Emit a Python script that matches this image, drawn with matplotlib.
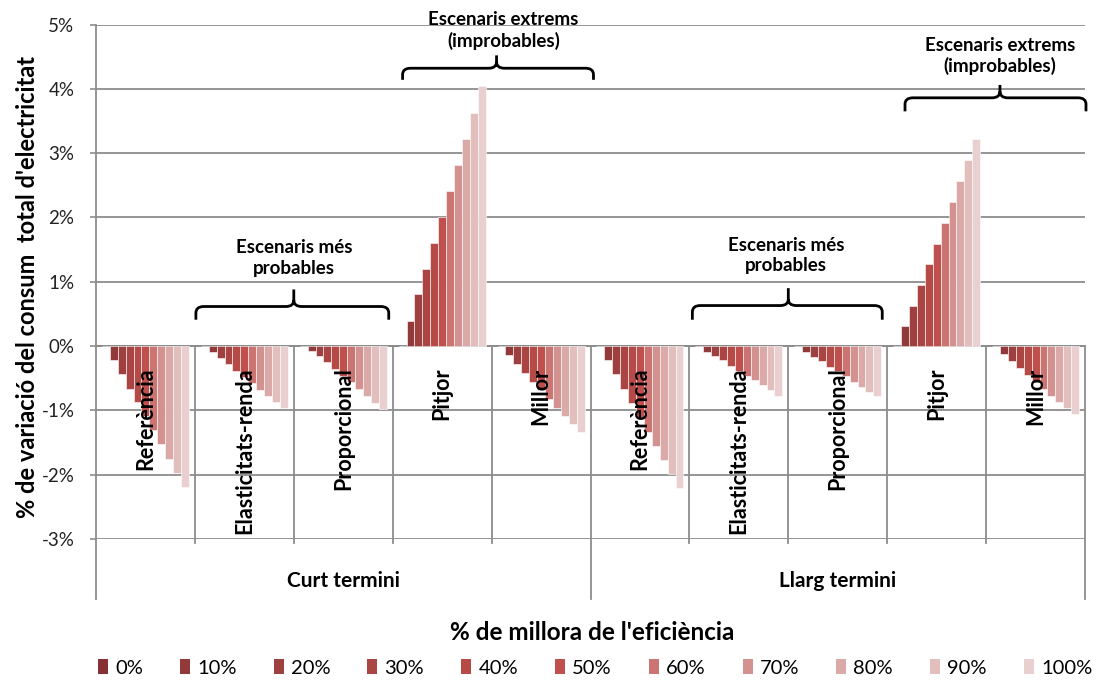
import numpy as np
import matplotlib
matplotlib.use("Agg")
import matplotlib.pyplot as plt
from matplotlib.path import Path
from matplotlib.patches import PathPatch, Patch

plt.rcParams['font.family'] = ['Lato', 'DejaVu Sans']

# Efficiency improvement levels (one bar series each)
efficiency_levels = ['0%', '10%', '20%', '30%', '40%', '50%', '60%', '70%', '80%', '90%', '100%']
scenarios = ['Referència', 'Elasticitats-renda', 'Proporcional', 'Pitjor', 'Millor']
horizons = ['Curt termini', 'Llarg termini']
y_ticks = [-3, -2, -1, 0, 1, 2, 3, 4, 5]

# % variation of total electricity consumption, per scenario, for each efficiency level
ct_referencia = [0, -0.22, -0.44, -0.66, -0.87, -1.09, -1.31, -1.53, -1.75, -1.97, -2.19]
ct_elasticitats = [0, -0.09, -0.18, -0.28, -0.38, -0.48, -0.58, -0.68, -0.78, -0.87, -0.96]
ct_proporcional = [0, -0.08, -0.16, -0.25, -0.35, -0.46, -0.56, -0.66, -0.77, -0.88, -0.98]
ct_pitjor = [0, 0.39, 0.81, 1.20, 1.61, 2.00, 2.41, 2.82, 3.22, 3.63, 4.04]
ct_millor = [0, -0.14, -0.28, -0.42, -0.56, -0.69, -0.83, -0.96, -1.09, -1.21, -1.33]
lt_referencia = [0, -0.22, -0.44, -0.66, -0.88, -1.10, -1.33, -1.55, -1.77, -1.99, -2.20]
lt_elasticitats = [0, -0.09, -0.15, -0.22, -0.31, -0.38, -0.46, -0.53, -0.61, -0.69, -0.77]
lt_proporcional = [0, -0.09, -0.17, -0.24, -0.32, -0.39, -0.47, -0.56, -0.64, -0.72, -0.77]
lt_pitjor = [0, 0.31, 0.63, 0.95, 1.28, 1.59, 1.92, 2.24, 2.57, 2.89, 3.22]
lt_millor = [0, -0.12, -0.23, -0.34, -0.45, -0.56, -0.66, -0.77, -0.87, -0.97, -1.06]

level_colors = ['#863234', '#923a39', '#9e403f', '#aa4543', '#b64a47', '#c0504d',
                '#cb7472', '#d39190', '#daa9a8', '#e2bebd', '#e9cfcf']

category_values = [ct_referencia, ct_elasticitats, ct_proporcional, ct_pitjor, ct_millor,
                   lt_referencia, lt_elasticitats, lt_proporcional, lt_pitjor, lt_millor]

GRID = '#8c8c8c'
W, H = 1100, 685
fig = plt.figure(figsize=(W / 100, H / 100), dpi=100)
ax_left, ax_right, ax_top, ax_bottom = 96, 1085, 24.5, 539
ax = fig.add_axes([ax_left / W, 1 - ax_bottom / H, (ax_right - ax_left) / W, (ax_bottom - ax_top) / H])

n_cat = len(category_values)
n_lev = len(efficiency_levels)
bar_w = 0.08
start = (1 - bar_w * n_lev) / 2

for j, level in enumerate(efficiency_levels):
    heights = [vals[j] for vals in category_values]
    xs = np.arange(n_cat) + start + bar_w * j
    ax.bar(xs, heights, width=bar_w, align='edge', color=level_colors[j],
           edgecolor='white', linewidth=0.4, zorder=3, label=level)

ax.set_xlim(0, n_cat)
ax.set_ylim(-3, 5)
ax.set_yticks(y_ticks)
ax.set_yticklabels([f'{t}%' for t in y_ticks], fontsize=13.5, color='#222222')
ax.set_xticks([])
ax.yaxis.grid(True, color=GRID, linewidth=1.3, zorder=0)
ax.set_axisbelow(True)
ax.tick_params(axis='y', length=4.5, width=1.2, color=GRID, pad=11)
for s in ax.spines.values():
    s.set_visible(False)

# axis frame lines and multi-level category separators
y_floor = -3.93
ax.plot([0, 0], [5, y_floor], color=GRID, lw=1.3, clip_on=False, zorder=2)
for b in range(1, n_cat + 1):
    y_end = y_floor if b % 5 == 0 else -3.06
    ax.plot([b, b], [0, y_end], color=GRID, lw=1.3, clip_on=False, zorder=2)
ax.axhline(0, color=GRID, lw=1.3, zorder=2)

# scenario labels under the zero axis
for i in range(n_cat):
    ax.annotate(scenarios[i % len(scenarios)], xy=(i + 0.5, 0), xytext=(0, -15.5),
                textcoords='offset points', rotation=90, ha='center', va='top',
                fontsize=15.5, fontweight='bold', zorder=5)

for k, hname in enumerate(horizons):
    ax.text(2.5 + 5 * k, -3.65, hname, ha='center', va='center',
            fontsize=15, fontweight='bold')


def brace(x0, x1, xc, y_end, y_bar, y_tip, rx=0.08, ry=0.1):
    verts = [(x0, y_end), (x0, y_bar - ry), (x0, y_bar), (x0 + rx, y_bar),
             (xc - rx, y_bar), (xc, y_bar), (xc, y_bar + ry), (xc, y_tip),
             (xc, y_bar + ry), (xc, y_bar), (xc + rx, y_bar),
             (x1 - rx, y_bar), (x1, y_bar), (x1, y_bar - ry), (x1, y_end)]
    codes = [Path.MOVETO, Path.LINETO, Path.CURVE3, Path.CURVE3,
             Path.LINETO, Path.CURVE3, Path.CURVE3, Path.LINETO,
             Path.MOVETO, Path.CURVE3, Path.CURVE3,
             Path.LINETO, Path.CURVE3, Path.CURVE3, Path.LINETO]
    ax.add_patch(PathPatch(Path(verts, codes), facecolor='none', edgecolor='black',
                           lw=2.0, clip_on=False, zorder=6, capstyle='butt'))


brace(1.01, 2.96, 2.0, 0.41, 0.615, 0.88)
ax.text(2.0, 1.37, 'Escenaris més\nprobables', ha='center', va='center',
        fontsize=13.5, fontweight='bold', linespacing=1.25)
brace(3.10, 5.03, 4.05, 4.14, 4.32, 4.52)
ax.text(4.12, 4.91, 'Escenaris extrems\n(improbables)', ha='center', va='center',
        fontsize=13.5, fontweight='bold', linespacing=1.25, clip_on=False)
brace(6.03, 7.95, 7.0, 0.41, 0.63, 0.9)
ax.text(6.98, 1.41, 'Escenaris més\nprobables', ha='center', va='center',
        fontsize=13.5, fontweight='bold', linespacing=1.25)
brace(8.18, 10.01, 9.14, 3.65, 3.86, 4.06)
ax.text(9.14, 4.51, 'Escenaris extrems\n(improbables)', ha='center', va='center',
        fontsize=13.5, fontweight='bold', linespacing=1.25)

fig.text(28 / W, 1 - 287 / H, "% de variació del consum  total d'electricitat",
         rotation=90, ha='center', va='center', fontsize=17, fontweight='bold')
fig.text(592 / W, 1 - 633 / H, "% de millora de l'eficiència",
         ha='center', va='center', fontsize=17.5, fontweight='bold')

handles = [Patch(facecolor=c, edgecolor='none') for c in level_colors]
fig.legend(handles, efficiency_levels, loc='center', bbox_to_anchor=(595 / W, 1 - 668 / H),
           ncol=n_lev, frameon=False, fontsize=14.5, handlelength=0.5, handleheight=0.7,
           handletextpad=0.35, columnspacing=1.84, borderaxespad=0)

fig.savefig('out.png', dpi=100)
